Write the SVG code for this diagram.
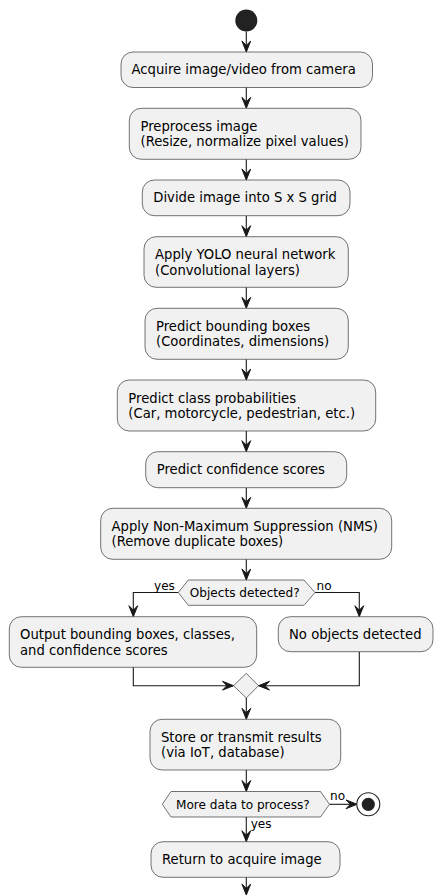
<svg xmlns="http://www.w3.org/2000/svg" width="434" height="895" viewBox="0 0 434 895">
  <defs>
    <style>
      .box { fill: #F1F1F1; stroke: #181818; stroke-width: 0.6; }
      .t { font-family: "DejaVu Sans", Verdana, sans-serif; font-size: 13.2px; fill: #000000; }
      .ts { font-family: "DejaVu Sans", Verdana, sans-serif; font-size: 12.1px; fill: #000000; }
      .edge { fill: none; stroke: #181818; stroke-width: 1.1; }
      .head { fill: #181818; stroke: #181818; stroke-width: 1; stroke-linejoin: miter; }
    </style>
    <!-- arrowheads with the tip at the origin, pointing down / right / left -->
    <polygon id="ad" class="head" points="-4.4,-11 0,0 4.4,-11 0,-6.6"/>
    <polygon id="ar" class="head" points="-11,-4.4 0,0 -11,4.4 -6.6,0"/>
    <polygon id="al" class="head" points="11,-4.4 0,0 11,4.4 6.6,0"/>
  </defs>
  <rect width="434" height="895" fill="#FFFFFF"/>

  <!-- connectors -->
  <g id="connectors">
    <line class="edge" x1="246.3" y1="31.5" x2="246.3" y2="51"/>
    <use href="#ad" x="246.3" y="52"/>
    <line class="edge" x1="246.3" y1="87.5" x2="246.3" y2="107"/>
    <use href="#ad" x="246.3" y="108.3"/>
    <line class="edge" x1="246.3" y1="159.3" x2="246.3" y2="179"/>
    <use href="#ad" x="246.3" y="180"/>
    <line class="edge" x1="246.3" y1="215.7" x2="246.3" y2="235.5"/>
    <use href="#ad" x="246.3" y="236.7"/>
    <line class="edge" x1="246.3" y1="287.3" x2="246.3" y2="307"/>
    <use href="#ad" x="246.3" y="308.3"/>
    <line class="edge" x1="246.3" y1="359.3" x2="246.3" y2="379"/>
    <use href="#ad" x="246.3" y="380"/>
    <line class="edge" x1="246.3" y1="431" x2="246.3" y2="450.5"/>
    <use href="#ad" x="246.3" y="451.7"/>
    <line class="edge" x1="246.3" y1="487.7" x2="246.3" y2="507"/>
    <use href="#ad" x="246.3" y="508.3"/>
    <line class="edge" x1="246.3" y1="559.3" x2="246.3" y2="579"/>
    <use href="#ad" x="246.3" y="580"/>

    <!-- branch: yes -->
    <polyline class="edge" points="178.3,592.5 133.3,592.5 133.3,615.5"/>
    <use href="#ad" x="133.3" y="616.7"/>
    <text class="ts" x="154" y="590">yes</text>
    <!-- branch: no -->
    <polyline class="edge" points="315,592.5 359.3,592.5 359.3,615.5"/>
    <use href="#ad" x="359.3" y="616.7"/>
    <text class="ts" x="316.5" y="590">no</text>

    <!-- merge -->
    <polyline class="edge" points="133.3,667.3 133.3,685.7 232.5,685.7"/>
    <use href="#ar" x="233.5" y="685.7"/>
    <polyline class="edge" points="359.3,651.7 359.3,685.7 259.5,685.7"/>
    <use href="#al" x="258.5" y="685.7"/>

    <line class="edge" x1="246.3" y1="698" x2="246.3" y2="718"/>
    <use href="#ad" x="246.3" y="719.3"/>
    <line class="edge" x1="246.3" y1="770" x2="246.3" y2="790.5"/>
    <use href="#ad" x="246.3" y="791.5"/>

    <!-- loop decision -->
    <line class="edge" x1="329.5" y1="804.3" x2="356" y2="804.3"/>
    <use href="#ar" x="357" y="804.3"/>
    <text class="ts" x="330" y="800">no</text>
    <line class="edge" x1="246.3" y1="817" x2="246.3" y2="840.5"/>
    <use href="#ad" x="246.3" y="841.7"/>
    <text class="ts" x="250.7" y="827.5">yes</text>

    <line class="edge" x1="246.3" y1="877.3" x2="246.3" y2="894"/>
    <use href="#ad" x="246.3" y="895"/>
  </g>

  <!-- start / stop -->
  <g id="start">
    <circle cx="246.3" cy="20.5" r="11" fill="#222222"/>
  </g>
  <g id="stop">
    <circle cx="368.3" cy="804.3" r="11.5" fill="#FFFFFF" stroke="#222222" stroke-width="1.1"/>
    <circle cx="368.3" cy="804.3" r="6.6" fill="#222222"/>
  </g>

  <!-- actions -->
  <g id="acquire">
    <rect class="box" x="121" y="52" width="251.5" height="35.5" rx="12" ry="12"/>
    <text class="t" x="131.5" y="74.3">Acquire image/video from camera</text>
  </g>
  <g id="preprocess">
    <rect class="box" x="129.3" y="108.3" width="231.7" height="51" rx="12" ry="12"/>
    <text class="t" x="140.5" y="130.6">Preprocess image</text>
    <text class="t" x="140.5" y="146">(Resize, normalize pixel values)</text>
  </g>
  <g id="grid">
    <rect class="box" x="142.3" y="180" width="207.7" height="35.7" rx="12" ry="12"/>
    <text class="t" x="153.3" y="202.4">Divide image into S x S grid</text>
  </g>
  <g id="yolo">
    <rect class="box" x="144" y="236.7" width="204.3" height="50.6" rx="12" ry="12"/>
    <text class="t" x="155" y="259.4">Apply YOLO neural network</text>
    <text class="t" x="155" y="274.8">(Convolutional layers)</text>
  </g>
  <g id="bboxes">
    <rect class="box" x="145" y="308.3" width="203.3" height="51" rx="12" ry="12"/>
    <text class="t" x="156" y="331">Predict bounding boxes</text>
    <text class="t" x="156" y="346.4">(Coordinates, dimensions)</text>
  </g>
  <g id="classes">
    <rect class="box" x="117.3" y="380" width="258.4" height="51" rx="12" ry="12"/>
    <text class="t" x="128.3" y="402.5">Predict class probabilities</text>
    <text class="t" x="128.3" y="417.9">(Car, motorcycle, pedestrian, etc.)</text>
  </g>
  <g id="confidence">
    <rect class="box" x="145.7" y="451.7" width="201" height="36" rx="12" ry="12"/>
    <text class="t" x="156.7" y="474.3">Predict confidence scores</text>
  </g>
  <g id="nms">
    <rect class="box" x="100.7" y="508.3" width="291" height="51" rx="12" ry="12"/>
    <text class="t" x="111.5" y="531">Apply Non-Maximum Suppression (NMS)</text>
    <text class="t" x="111.5" y="546.4">(Remove duplicate boxes)</text>
  </g>

  <!-- decision: objects detected -->
  <g id="detected">
    <polygon class="box" points="178.3,592.5 188.3,580 304,580 315,592.5 304,605.3 188.3,605.3"/>
    <text class="ts" x="189.8" y="597">Objects detected?</text>
  </g>
  <g id="output">
    <rect class="box" x="9.3" y="616.7" width="247.4" height="50.6" rx="12" ry="12"/>
    <text class="t" x="20" y="639.4">Output bounding boxes, classes,</text>
    <text class="t" x="20" y="654.8">and confidence scores</text>
  </g>
  <g id="none">
    <rect class="box" x="278.3" y="616.7" width="154.7" height="35" rx="12" ry="12"/>
    <text class="t" x="289" y="639.4">No objects detected</text>
  </g>
  <g id="merge">
    <polygon class="box" points="233.5,685.7 246.3,673.3 258.5,685.7 246.3,698"/>
  </g>

  <g id="store">
    <rect class="box" x="150" y="719.3" width="190.7" height="50.7" rx="12" ry="12"/>
    <text class="t" x="161" y="741.8">Store or transmit results</text>
    <text class="t" x="161" y="757.2">(via IoT, database)</text>
  </g>
  <g id="more">
    <polygon class="box" points="162.3,804.3 171,791.5 320.5,791.5 329.5,804.3 320.5,817 171,817"/>
    <text class="ts" x="176" y="808.6">More data to process?</text>
  </g>
  <g id="return">
    <rect class="box" x="151" y="841.7" width="189" height="35.6" rx="12" ry="12"/>
    <text class="t" x="162" y="864.2">Return to acquire image</text>
  </g>
</svg>
